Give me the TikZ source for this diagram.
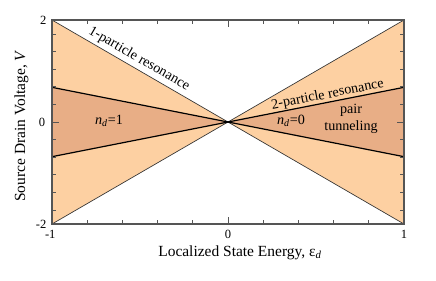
\documentclass[tikz,border=0pt]{standalone}
\usepackage{fontspec}
\setmainfont{Liberation Serif}
\usepackage{xcolor}
\usepackage{tikz}
\usetikzlibrary{calc}
\definecolor{lightband}{RGB}{253,208,162}
\definecolor{darkband}{RGB}{232,174,134}
\definecolor{framegray}{RGB}{85,85,85}
\tikzset{
  lightreg/.style={fill=lightband},
  darkreg/.style={fill=darkband},
  outerline/.style={draw=black!80, line width=0.5pt},
  innerline/.style={draw=black, line width=0.9pt},
  frame/.style={draw=framegray, line width=0.8pt},
  ticks/.style={draw=framegray, line width=0.6pt},
  ticklbl/.style={font=\fontsize{9.4}{11}\selectfont, inner sep=1pt},
  axislbl/.style={font=\fontsize{11.6}{13}\selectfont, inner sep=0pt},
  regionlbl/.style={font=\fontsize{10.6}{12.4}\selectfont, align=center, inner sep=1pt},
}

\begin{document}
\begin{tikzpicture}[x=132pt, y=38.25pt]
  \useasboundingbox (-171pt,-118.5pt) rectangle (156pt,91.5pt);
  \coordinate (O) at (0,0);
  \coordinate (tl) at (-1,2);
  \coordinate (bl) at (-1,-2);
  \coordinate (tr) at (1,2);
  \coordinate (br) at (1,-2);
  \coordinate (ml) at (-1,0.68);
  \coordinate (nl) at (-1,-0.68);
  \coordinate (mr) at (1,0.68);
  \coordinate (nr) at (1,-0.68);
  % shaded regions
  \fill[lightreg] (tl) -- (O) -- (bl) -- cycle;
  \fill[lightreg] (tr) -- (O) -- (br) -- cycle;
  \fill[darkreg] (ml) -- (O) -- (nl) -- cycle;
  \fill[darkreg] (mr) -- (O) -- (nr) -- cycle;
  \draw[outerline] (tl) -- (O) -- (br);
  \draw[outerline] (bl) -- (O) -- (tr);
  \draw[innerline] (ml) -- (O) -- (nr);
  \draw[innerline] (nl) -- (O) -- (mr);
  % ticks
  \foreach \x in {-0.8,-0.6,-0.4,-0.2,0.2,0.4,0.6,0.8} {
    \draw[ticks] (\x,-2) -- ++(0,3pt);
    \draw[ticks] (\x,2) -- ++(0,-3pt);
  }
  \foreach \k in {1,...,5} {
    \draw[ticks] (-1,0.345*\k) -- ++(3pt,0);
    \draw[ticks] (-1,-0.345*\k) -- ++(3pt,0);
    \draw[ticks] (1,0.345*\k) -- ++(-3pt,0);
    \draw[ticks] (1,-0.345*\k) -- ++(-3pt,0);
  }
  \draw[ticks] (0,-2) -- ++(0,5.25pt);
  \draw[ticks] (0,2) -- ++(0,-5.25pt);
  \draw[ticks] (-1,0) -- ++(5.25pt,0);
  \draw[ticks] (1,0) -- ++(-5.25pt,0);
  \draw[frame] (bl) rectangle (tr);
  % tick labels
  \node[ticklbl, anchor=east] (y2) at ($(tl)+(-3pt,0)$) {2};
  \node[ticklbl, anchor=east] (y0) at (-1.03,0) {0};
  \node[ticklbl, anchor=east] (ym2) at ($(bl)+(-3pt,0)$) {-2};
  \node[ticklbl, anchor=base] (xm1) at (-1.01,-2.275) {-1};
  \node[ticklbl, anchor=base] (x0) at (0,-2.275) {0};
  \node[ticklbl, anchor=base] (x1) at (1,-2.275) {1};
  % axis labels
  \node[axislbl, anchor=base] (xlab) at (9pt,-100.5pt) {Localized State Energy, ε\textsubscript{\textit{d}}};
  \node[axislbl, rotate=90] (ylab) at (-155pt,-3pt) {Source Drain Voltage, \textit{V}};
  % region labels
  \path (tl) -- (O) node[regionlbl, pos=0.466, sloped, above, inner sep=2.5pt] (one) {1-particle resonance};
  \path (O) -- (mr) node[regionlbl, pos=0.574, sloped, above, inner sep=0.5pt] (two) {2-particle resonance};
  \node[regionlbl] (nd1) at (-0.676,0.02) {\textit{n}\textsubscript{\textit{d}}=1};
  \node[regionlbl] (nd0) at (0.358,0.02) {\textit{n}\textsubscript{\textit{d}}=0};
  \node[regionlbl] (pair) at (0.699,0.06) {pair\\tunneling};
\end{tikzpicture}
\end{document}
